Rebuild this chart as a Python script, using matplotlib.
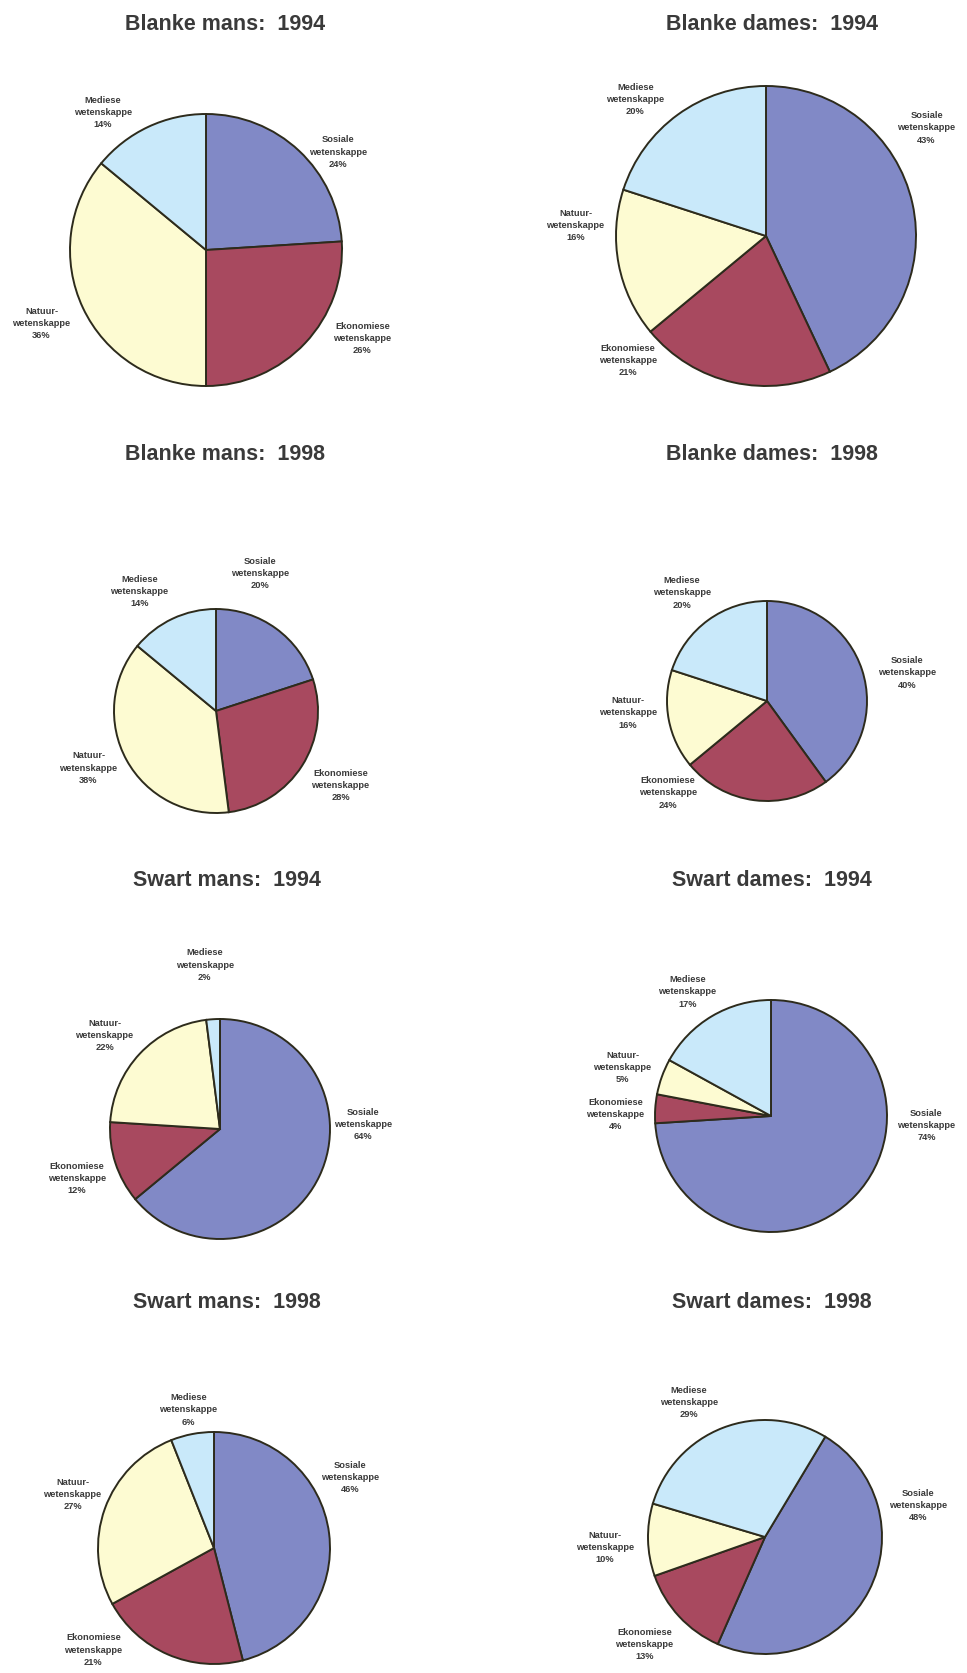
import matplotlib.pyplot as plt

# data: share of each field (%), order = Sosiale, Ekonomiese, Natuur, Mediese
categories = ['Sosiale\nwetenskappe', 'Ekonomiese\nwetenskappe',
              'Natuur-\nwetenskappe', 'Mediese\nwetenskappe']
titles = ['Blanke mans:  1994', 'Blanke dames:  1994',
          'Blanke mans:  1998', 'Blanke dames:  1998',
          'Swart mans:  1994', 'Swart dames:  1994',
          'Swart mans:  1998', 'Swart dames:  1998']
blanke_mans_1994 = [24, 26, 36, 14]
blanke_dames_1994 = [43, 21, 16, 20]
blanke_mans_1998 = [20, 28, 38, 14]
blanke_dames_1998 = [40, 24, 16, 20]
swart_mans_1994 = [64, 12, 22, 2]
swart_dames_1994 = [74, 4, 5, 17]
swart_mans_1998 = [46, 21, 27, 6]
swart_dames_1998 = [48, 13, 10, 29]

series = [blanke_mans_1994, blanke_dames_1994, blanke_mans_1998, blanke_dames_1998,
          swart_mans_1994, swart_dames_1994, swart_mans_1998, swart_dames_1998]

colors = ['#8189c6', '#a8495f', '#fdfbd2', '#c9e9fa']

# layout in pixels: pie centre x, y and radius; title position
W, H = 967, 1673
centres = [(206, 250, 136), (766, 236, 150),
           (216, 711, 102), (767, 701, 100),
           (220, 1129, 110), (771, 1116, 116),
           (214, 1548, 116), (765, 1537, 117)]
start_angles = [90, 90, 90, 90, 90, 90, 90, 59]
title_pos = [(225, 25), (772, 24), (225, 454), (772, 454),
             (227, 880), (772, 880), (227, 1302), (772, 1302)]
# label placement, in units of pie radius (like Excel's best fit)
label_offsets = [
    [(0.97, 0.72), (1.15, -0.65), (-1.21, -0.54), (-0.76, 1.01)],
    [(1.07, 0.72), (-0.92, -0.83), (-1.27, 0.07), (-0.87, 0.91)],
    [(0.43, 1.35), (1.22, -0.73), (-1.25, -0.56), (-0.75, 1.17)],
    [(1.40, 0.28), (-0.99, -0.92), (-1.39, -0.12), (-0.85, 1.08)],
    [(1.30, 0.04), (-1.30, -0.45), (-1.05, 0.85), (-0.14, 1.49)],
    [(1.34, -0.08), (-1.34, 0.01), (-1.28, 0.42), (-0.72, 1.07)],
    [(1.17, 0.61), (-1.04, -0.88), (-1.22, 0.46), (-0.22, 1.19)],
    [(1.31, 0.27), (-1.03, -0.92), (-1.37, -0.09), (-0.65, 1.15)],
]

fig = plt.figure(figsize=(W / 100, H / 100), dpi=100)
fig.patch.set_facecolor('white')

for i, vals in enumerate(series):
    cx, cy, r = centres[i]
    ax = fig.add_axes([(cx - r) / W, 1 - (cy + r) / H, 2 * r / W, 2 * r / H])
    ax.pie(vals, colors=colors, startangle=start_angles[i], counterclock=False, radius=1,
           wedgeprops=dict(edgecolor='#2d2b1c', linewidth=1.4))
    for (lx, ly), c, v in zip(label_offsets[i], categories, vals):
        ax.text(lx, ly, '%s\n%d%%' % (c, v), ha='center', va='center',
                multialignment='center', linespacing=1.45, clip_on=False,
                fontsize=6.7, fontweight='bold', color='#3a3a3a',
                family='Liberation Sans')
    ax.set_xlim(-1, 1)
    ax.set_ylim(-1, 1)
    ax.set_aspect('equal')
    ax.axis('off')

    tx, ty = title_pos[i]
    fig.text(tx / W, 1 - ty / H, titles[i], ha='center', va='center',
             fontsize=15.5, fontweight='bold', color='#3a3a3a', family='Liberation Sans')

fig.savefig('out.png', dpi=100, facecolor='white')
